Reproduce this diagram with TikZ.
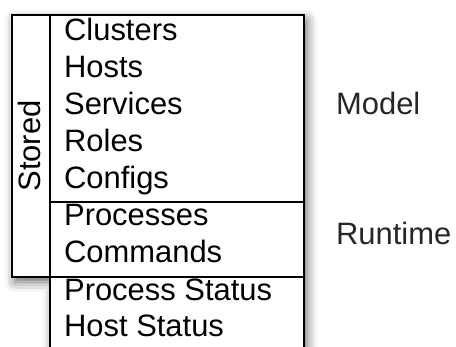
\documentclass[tikz,border=0pt]{standalone}
\usepackage{fontspec}
\setmainfont{Liberation Sans}
\usetikzlibrary{shadows.blur}

\begin{document}
\begin{tikzpicture}[x=0.02cm, y=-0.02cm, line width=0.045cm,
    every node/.style={font=\fontsize{17.6}{21}\selectfont, inner sep=0pt},
    item/.style={anchor=base west},
    side/.style={anchor=base west, text=black!85}]
            \useasboundingbox (0,0) rectangle (456,347);

            % Outline with its shadow
            \fill[white, blur shadow={shadow xshift=0.06cm, shadow yshift=-0.1cm, shadow blur radius=0.2cm, shadow opacity=60}]
                (12,15) -- (304,15) -- (304,380) -- (50,380) -- (50,277) -- (12,277) -- cycle;

            % Draw the boxes
            \draw (12,15) rectangle (50,277);
            \draw (50,15) rectangle (304,202);   % model
            \draw (50,202) rectangle (304,277);  % runtime
            \draw (50,380) -- (50,277) -- (304,277) -- (304,380);

            % Model entries
            \node[item] (clusters) at (63,41) {Clusters};
            \node[item] (hosts) at (63,78) {Hosts};
            \node[item] (services) at (63,115) {Services};
            \node[item] (roles) at (63,152) {Roles};
            \node[item] (configs) at (63,189) {Configs};

            % Runtime entries
            \node[item] (processes) at (63,226) {Processes};
            \node[item] (commands) at (63,263) {Commands};

            % Status entries
            \node[item] (procstatus) at (63,300) {Process Status};
            \node[item] (hoststatus) at (63,337) {Host Status};

            % Labels
            \node[rotate=90, anchor=base] (stored) at (40,146) {Stored};
            \node[side] (model) at (335,115) {Model};
            \node[side] (runtime) at (335,245) {Runtime};
        \end{tikzpicture}
\end{document}
